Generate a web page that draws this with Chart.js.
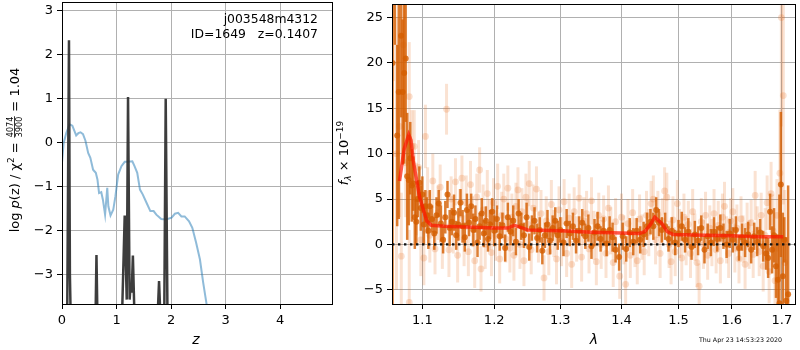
<!DOCTYPE html>
<html>
<head>
<meta charset="utf-8">
<script src="https://cdn.jsdelivr.net/npm/chart.js@4"></script>
<style>
  body { margin: 0; background: #fff; }
  #wrap { position: relative; width: 800px; height: 350px; }
  canvas { position: absolute; top: 0; }
</style>
</head>
<body>
<div id="wrap">
  <canvas id="pz" width="340" height="350" style="left:0"></canvas>
  <canvas id="spec" width="466" height="350" style="left:334px"></canvas>
</div>
<script>
// ---- left panel: p(z) ----
const chiZ = [0, 0.03, 0.08, 0.14, 0.19, 0.26, 0.30, 0.34, 0.385, 0.43, 0.48, 0.52, 0.57, 0.62, 0.65, 0.68, 0.72, 0.75, 0.79, 0.83, 0.85, 0.89, 0.94, 0.98, 1.03, 1.09, 1.15, 1.21, 1.29, 1.33, 1.38, 1.43, 1.48, 1.55, 1.62, 1.68, 1.73, 1.82, 1.91, 2.01, 2.07, 2.13, 2.19, 2.25, 2.33, 2.39, 2.46, 2.53, 2.59, 2.65, 2.71];
const chiVal = [-0.45, 0, 0.23, 0.42, 0.39, 0.17, 0.22, 0.24, 0.2, 0.05, -0.23, -0.34, -0.61, -0.68, -0.83, -1.14, -1.12, -1.29, -1.63, -1.02, -1.44, -1.65, -1.52, -1.21, -0.72, -0.53, -0.43, -0.43, -0.42, -0.53, -0.68, -1.06, -1.17, -1.36, -1.55, -1.55, -1.63, -1.73, -1.74, -1.70, -1.61, -1.59, -1.67, -1.67, -1.78, -1.93, -2.27, -2.65, -3.18, -3.65, -4.3];
const pzZ = [0, 0.095, 0.128, 0.145, 0.16, 0.615, 0.632, 0.65, 1.10, 1.15, 1.187, 1.211, 1.24, 1.26, 1.278, 1.30, 1.33, 1.752, 1.78, 1.806, 1.875, 1.902, 1.935, 4.97];
const pzVal = [-4, -4, 2.33, -3.0, -4, -4, -2.55, -4, -4, -1.65, -3.56, 1.04, -3.56, -3.18, -3.4, -2.56, -4, -4, -3.14, -4, -4, 1.0, -4, -4];
const zTicks = [0, 1, 2, 3, 4];
const lnpTicks = [-3, -2, -1, 0, 1, 2, 3];

// ---- right panel: spectrum ----
const specLam = [1.061, 1.064, 1.067, 1.069, 1.072, 1.074, 1.076, 1.078, 1.080, 1.082, 1.084, 1.086, 1.088, 1.090, 1.092, 1.094, 1.096, 1.098, 1.100, 1.102, 1.104, 1.106, 1.108, 1.110, 1.113, 1.116, 1.119, 1.122, 1.125, 1.128, 1.131, 1.134, 1.137, 1.140, 1.143, 1.146, 1.149, 1.152, 1.155, 1.158, 1.161, 1.164, 1.167, 1.170, 1.173, 1.176, 1.179, 1.182, 1.185, 1.188, 1.191, 1.194, 1.197, 1.200, 1.204, 1.208, 1.212, 1.216, 1.220, 1.224, 1.228, 1.232, 1.236, 1.240, 1.244, 1.248, 1.252, 1.256, 1.260, 1.264, 1.268, 1.272, 1.276, 1.280, 1.284, 1.288, 1.292, 1.296, 1.300, 1.305, 1.310, 1.315, 1.320, 1.325, 1.330, 1.335, 1.340, 1.345, 1.350, 1.355, 1.360, 1.365, 1.370, 1.375, 1.380, 1.385, 1.390, 1.396, 1.402, 1.408, 1.414, 1.420, 1.426, 1.432, 1.438, 1.444, 1.450, 1.455, 1.460, 1.465, 1.470, 1.476, 1.482, 1.488, 1.494, 1.500, 1.506, 1.512, 1.518, 1.524, 1.530, 1.536, 1.542, 1.548, 1.554, 1.560, 1.566, 1.572, 1.578, 1.584, 1.590, 1.596, 1.602, 1.608, 1.614, 1.620, 1.626, 1.632, 1.638, 1.644, 1.650, 1.656, 1.662, 1.668, 1.672, 1.676, 1.680, 1.684, 1.688, 1.692, 1.695, 1.698, 1.702, 1.705, 1.709, 1.713];
const specFlux = [20, 27, 12, 16.8, 23, 16.8, 18.9, 20.5, 7.5, 7.1, 9.5, 6.5, 6.7, 3.0, 2.5, 5.0, 6.8, 4.0, 5.5, 2.2, 4.2, 3.2, 1.5, 4.2, 2.8, 1.2, 3.2, 4.5, 2.3, 0.5, 3.0, 5.5, 1.8, 2.5, 3.5, 1.0, 2.2, 4.6, 2.0, 0.8, 3.8, 2.4, 4.2, 1.6, 2.8, 0.2, 2.0, 3.4, 1.2, 2.6, 0.6, 2.2, 3.6, 1.5, 2.8, 0.9, 2.1, -0.4, 3.0, 1.4, 2.6, 0.3, 3.4, 2.0, 1.0, 3.0, -0.3, 1.8, 2.6, 0.7, 1.6, -0.7, 1.0, 2.2, 0.4, 1.8, 2.6, 1.0, 1.6, 0.2, 2.3, 1.2, 2.0, 0.4, 1.5, 2.4, 0.9, 1.8, -0.2, 1.3, 2.0, 0.6, 1.5, 0.1, 1.6, 0.8, -0.6, -1.4, 0.9, -0.5, 1.3, 0.3, 1.5, 0.5, 1.1, 2.0, 2.5, 2.0, 3.8, 2.4, 1.6, 2.0, 0.6, 1.5, 0.2, 1.2, 2.0, 0.5, 1.4, -0.3, 1.1, 0.4, 1.8, -0.6, 0.9, 0.2, 1.4, 0.6, 1.8, 0.9, 0.0, 1.2, 0.5, 1.6, -0.4, 0.8, 0.2, 1.1, -0.6, 0.9, 0.3, 1.3, -0.2, -1.0, -1.5, 3.6, -0.6, 1.0, -2.4, -3.9, -6.5, 6.6, -3.5, 0.5, -6.2, -5.5];
const specErr = [30, 5, 10, 14, 9, 8, 10, 7, 7, 5, 4, 4, 3, 3.5, 2.5, 2, 1.8, 2.5, 2, 2.2, 1.8, 2, 2, 1.8, 1.5, 1.8, 2, 1.5, 2, 1.5, 1.8, 1.5, 2, 1.5, 2, 1.6, 1.8, 1.5, 1.8, 1.6, 1.8, 1.5, 1.4, 1.8, 1.5, 1.6, 1.5, 1.7, 1.5, 1.6, 1.4, 1.6, 1.5, 1.7, 1.5, 1.6, 1.4, 1.5, 1.6, 1.5, 1.7, 1.5, 1.6, 1.5, 1.4, 1.6, 1.5, 1.4, 1.5, 1.6, 1.4, 1.5, 1.4, 1.6, 1.5, 1.4, 1.5, 1.6, 1.4, 1.5, 1.6, 1.4, 1.5, 1.4, 1.6, 1.5, 1.4, 1.5, 1.4, 1.5, 1.6, 1.4, 1.5, 1.4, 1.5, 1.6, 1.4, 1.5, 1.5, 1.4, 1.6, 1.5, 1.4, 1.5, 1.4, 1.5, 1.4, 1.5, 1.4, 1.5, 1.4, 1.5, 1.4, 1.5, 1.4, 1.5, 1.6, 1.4, 1.5, 1.4, 1.5, 1.6, 1.4, 1.5, 1.4, 1.5, 1.6, 1.4, 1.5, 1.4, 1.5, 1.6, 1.4, 1.5, 1.4, 1.5, 1.6, 1.4, 1.5, 1.5, 1.6, 1.5, 1.7, 1.8, 2.2, 2.0, 2.6, 3.0, 3.5, 5, 12, 8, 7, 2.5, 7, 12];

const rawLam = [1.062, 1.066, 1.070, 1.0723, 1.075, 1.078, 1.0827, 1.0827, 1.086, 1.0892, 1.092, 1.095, 1.098, 1.1041, 1.102, 1.107, 1.110, 1.114, 1.117, 1.121, 1.124, 1.127, 1.1327, 1.136, 1.139, 1.142, 1.145, 1.148, 1.151, 1.154, 1.157, 1.160, 1.163, 1.166, 1.169, 1.172, 1.175, 1.179, 1.181, 1.184, 1.187, 1.190, 1.193, 1.196, 1.199, 1.202, 1.205, 1.208, 1.211, 1.214, 1.217, 1.220, 1.223, 1.226, 1.229, 1.232, 1.235, 1.238, 1.241, 1.244, 1.247, 1.250, 1.252, 1.255, 1.258, 1.263, 1.266, 1.270, 1.2746, 1.278, 1.282, 1.286, 1.290, 1.294, 1.298, 1.302, 1.306, 1.310, 1.314, 1.318, 1.322, 1.326, 1.330, 1.334, 1.338, 1.342, 1.346, 1.350, 1.354, 1.358, 1.362, 1.366, 1.370, 1.374, 1.378, 1.382, 1.386, 1.390, 1.397, 1.400, 1.404, 1.407, 1.411, 1.415, 1.419, 1.423, 1.427, 1.431, 1.435, 1.439, 1.443, 1.447, 1.451, 1.455, 1.459, 1.463, 1.467, 1.471, 1.475, 1.479, 1.483, 1.4866, 1.490, 1.494, 1.498, 1.502, 1.506, 1.510, 1.514, 1.518, 1.522, 1.526, 1.530, 1.534, 1.538, 1.542, 1.546, 1.550, 1.554, 1.558, 1.562, 1.566, 1.570, 1.574, 1.578, 1.582, 1.586, 1.590, 1.594, 1.598, 1.602, 1.606, 1.610, 1.614, 1.618, 1.622, 1.626, 1.630, 1.634, 1.638, 1.642, 1.646, 1.650, 1.654, 1.658, 1.662, 1.666, 1.670, 1.674, 1.678, 1.682, 1.686, 1.690, 1.696, 1.699, 1.703, 1.706];
const rawFlux = [28, 10, 13, -1.3, 22, 9, 16.3, -6.4, 10.8, 10.8, 5.0, 8.5, 0.5, 11.9, -1.5, 5.5, 1.0, 7.0, -0.5, 3.5, 6.3, 0.3, 14.9, -0.6, 5.0, 2.0, 6.9, -1.2, 3.3, 7.3, 0.4, 4.6, -0.8, 6.6, 2.5, -1.8, 5.2, 8.2, -2.7, 3.8, 0.0, 5.6, 2.2, -0.9, 4.6, 1.0, 6.4, -1.6, 3.2, 5.0, 0.6, 6.2, -0.4, 3.0, -1.2, 4.2, 6.0, 0.0, 3.6, -1.8, 5.2, 2.2, 6.7, -0.6, 4.0, 6.1, 0.8, 3.4, -3.7, 2.6, -0.8, 4.4, 1.2, -1.6, 3.8, 0.3, 4.7, -1.0, 2.9, -2.2, 3.6, 0.6, 5.1, -1.4, 2.6, 3.4, -0.5, 4.8, 1.0, -1.9, 3.2, 0.0, 2.8, -1.0, 4.0, 1.5, -2.0, 2.5, -3.5, 3.0, 0.5, -4.4, 2.3, -1.2, 3.5, 0.2, -1.8, 2.8, 0.8, -0.8, 3.2, 1.3, 4.5, 5.0, 0.5, 3.3, -1.0, 2.6, 5.9, 5.2, 0.0, -1.9, 2.7, -0.8, 4.5, 1.2, -1.5, 3.0, 0.4, 2.2, -1.0, 3.6, 0.8, -2.0, -4.6, 2.5, 0.0, 3.2, -1.2, 1.8, 0.2, 3.4, -0.6, 2.1, -1.8, 3.0, 4.2, 0.5, -1.0, 2.6, 3.6, -0.4, 1.8, -1.6, 2.8, 0.6, -2.2, 2.0, 0.0, 2.4, -1.1, 5.4, 1.6, -0.8, 3.2, -2.4, 1.0, 4.6, -3.0, 5.6, 1.5, -4.0, 3.2, 7.85, 25, 16.4, -2.0];
const rawErr = [10, 15, 10, 7, 10, 6, 6, 8, 4, 4, 4, 3, 4, 3.5, 3, 3, 3, 3, 2.8, 3, 2.5, 3, 2.8, 3, 2.5, 3, 2.6, 3, 2.8, 2.5, 2.8, 3, 2.7, 2.6, 2.8, 3, 2.6, 2.5, 2.5, 2.8, 2.7, 2.6, 2.8, 2.6, 2.7, 2.8, 2.5, 2.7, 2.6, 2.8, 2.6, 2.5, 2.7, 2.6, 2.8, 2.6, 2.5, 2.7, 2.6, 2.8, 2.6, 2.7, 2.5, 2.7, 2.6, 2.5, 2.8, 2.6, 2.5, 2.7, 2.6, 2.7, 2.6, 2.8, 2.6, 2.7, 2.5, 2.6, 2.7, 2.6, 2.7, 2.5, 2.6, 2.7, 2.6, 2.5, 2.7, 2.6, 2.7, 2.6, 2.5, 2.7, 2.6, 2.7, 2.5, 2.6, 2.7, 2.6, 2.5, 2.6, 2.7, 2.6, 2.7, 2.5, 2.6, 2.7, 2.6, 2.7, 2.5, 2.6, 2.7, 2.6, 2.5, 2.6, 2.7, 2.6, 2.7, 2.5, 2.6, 2.7, 2.6, 2.5, 2.6, 2.7, 2.6, 2.7, 2.5, 2.6, 2.7, 2.6, 2.7, 2.5, 2.6, 2.7, 2.5, 2.6, 2.7, 2.6, 2.7, 2.5, 2.6, 2.7, 2.6, 2.7, 2.5, 2.6, 2.7, 2.6, 2.7, 2.5, 2.6, 2.7, 2.6, 2.7, 2.5, 2.6, 2.7, 2.6, 2.7, 2.5, 2.6, 2.7, 2.6, 2.7, 2.5, 2.8, 3, 3, 3.5, 3.5, 4, 5, 4, 7, 12, 12, 8];

const modelLam = [1.070, 1.076, 1.082, 1.085, 1.088, 1.0964, 1.100, 1.1058, 1.112, 1.13, 1.15, 1.20, 1.22, 1.2295, 1.24, 1.25, 1.30, 1.35, 1.40, 1.43, 1.44, 1.45, 1.4575, 1.47, 1.48, 1.49, 1.55, 1.60, 1.65, 1.703];
const modelFlux = [7.0, 10.5, 12.1, 11.5, 9.2, 5.2, 4.2, 2.6, 2.1, 2.0, 1.95, 1.8, 1.8, 2.1, 1.85, 1.6, 1.5, 1.35, 1.25, 1.2, 1.4, 2.2, 3.0, 2.3, 1.4, 1.1, 1.0, 0.95, 0.85, 0.85];
const lamTicks = [1.1, 1.2, 1.3, 1.4, 1.5, 1.6, 1.7];
const fluxTicks = [-5, 0, 5, 10, 15, 20, 25];

Chart.defaults.font.family = 'DejaVu Sans';
Chart.defaults.font.size = 13;
Chart.defaults.color = '#000';

const minus = v => String(v).replace('-', '\u2212');

function fixedAxis(size, vertical) {
  return function (scale) {
    if (vertical) scale.width = size; else scale.height = size;
    scale.paddingTop = 0; scale.paddingBottom = 0;
    scale.paddingLeft = 0; scale.paddingRight = 0;
  };
}

const gridOpts = { color: '#b0b0b0', lineWidth: 1, tickColor: '#000', tickLength: 5, tickWidth: 1 };

// frame around plot area, like matplotlib spines
const frame = {
  id: 'frame',
  afterDraw(chart) {
    const { ctx, chartArea: a } = chart;
    ctx.save();
    ctx.strokeStyle = '#000';
    ctx.lineWidth = 1;
    ctx.strokeRect(Math.round(a.left) + 0.5, Math.round(a.top) + 0.5, Math.round(a.width) - 1, Math.round(a.height));
    ctx.restore();
  }
};

// vertical error bars drawn under each dataset's markers
const errorBars = {
  id: 'errorBars',
  beforeDatasetDraw(chart, args) {
    const ds = chart.data.datasets[args.index];
    if (!ds.errs) return;
    const { ctx, chartArea: a, scales: { x, y } } = chart;
    ctx.save();
    ctx.beginPath();
    ctx.rect(a.left, a.top, a.width, a.height);
    ctx.clip();
    ctx.strokeStyle = ds.barColor;
    ctx.lineWidth = ds.barWidth;
    ds.data.forEach((p, i) => {
      const px = x.getPixelForValue(p.x);
      ctx.beginPath();
      ctx.moveTo(px, y.getPixelForValue(p.y - ds.errs[i]));
      ctx.lineTo(px, y.getPixelForValue(p.y + ds.errs[i]));
      ctx.stroke();
    });
    ctx.restore();
  }
};

function drawParts(ctx, parts, baseline) {
  let w = 0;
  parts.forEach(p => {
    ctx.font = p.f;
    p.w = p.frac ? Math.max(ctx.measureText(p.frac[0]).width, ctx.measureText(p.frac[1]).width) + 2 : ctx.measureText(p.t).width;
    w += p.w;
  });
  let x = -w / 2;
  ctx.textBaseline = 'alphabetic';
  ctx.textAlign = 'left';
  parts.forEach(p => {
    ctx.font = p.f;
    if (p.frac) {
      const mid = baseline - 4.5;
      ctx.textAlign = 'center';
      ctx.fillText(p.frac[0], x + p.w / 2, mid - 1.5);
      ctx.fillText(p.frac[1], x + p.w / 2, mid + 7.5);
      ctx.fillRect(x + 0.5, mid - 0.4, p.w - 1, 0.8);
      ctx.textAlign = 'left';
    } else {
      ctx.fillText(p.t, x, baseline + (p.dy || 0));
    }
    x += p.w;
  });
}

const pzTitles = {
  id: 'pzTitles',
  afterDraw(chart) {
    const ctx = chart.ctx;
    ctx.save();
    ctx.fillStyle = '#000';
    ctx.font = '12.4px DejaVu Sans';
    ctx.textAlign = 'right';
    ctx.textBaseline = 'middle';
    ctx.fillText('j003548m4312', 318, 20);
    ctx.fillText('ID=1649   z=0.1407', 318, 35);
    ctx.font = 'italic 14px DejaVu Sans';
    ctx.textAlign = 'center';
    ctx.fillText('z', 196, 340);
    ctx.translate(14, 150);
    ctx.rotate(-Math.PI / 2);
    drawParts(ctx, [
      { t: 'log ', f: '13px DejaVu Sans' },
      { t: 'p', f: 'italic 13px DejaVu Sans' },
      { t: '(z) / \u03c7', f: '13px DejaVu Sans' },
      { t: '2', f: '9px DejaVu Sans', dy: -5.5 },
      { t: ' = ', f: '13px DejaVu Sans' },
      { frac: ['4074', '3900'], f: '8px DejaVu Sans' },
      { t: ' = 1.04', f: '13px DejaVu Sans' }
    ], 5);
    ctx.restore();
  }
};

const specTitles = {
  id: 'specTitles',
  afterDraw(chart) {
    const ctx = chart.ctx;
    ctx.save();
    ctx.fillStyle = '#000';
    ctx.font = 'italic 14px DejaVu Sans';
    ctx.textAlign = 'center';
    ctx.textBaseline = 'middle';
    ctx.fillText('\u03bb', 594 - 334, 340);
    ctx.font = '6.3px DejaVu Sans';
    ctx.textAlign = 'left';
    ctx.fillText('Thu Apr 23 14:53:23 2020', 699 - 334, 340);
    ctx.translate(9, 153);
    ctx.rotate(-Math.PI / 2);
    drawParts(ctx, [
      { t: 'f', f: 'italic 13px DejaVu Sans' },
      { t: '\u03bb', f: 'italic 9px DejaVu Sans', dy: 3 },
      { t: ' \u00d7 10', f: '13px DejaVu Sans' },
      { t: '\u221219', f: '9px DejaVu Sans', dy: -5.5 }
    ], 5);
    ctx.restore();
  }
};

new Chart(document.getElementById('pz'), {
  type: 'line',
  data: {
    datasets: [
      {
        data: pzZ.map((z, i) => ({ x: z, y: pzVal[i] })),
        borderColor: 'rgba(51,51,51,0.95)', borderWidth: 2.5, pointRadius: 0, tension: 0
      },
      {
        data: chiZ.map((z, i) => ({ x: z, y: chiVal[i] })),
        borderColor: 'rgba(31,119,180,0.5)', borderWidth: 2, pointRadius: 0, tension: 0
      }
    ]
  },
  options: {
    responsive: false, animation: false,
    layout: { padding: { top: 2, right: 7, left: 0, bottom: 0 } },
    plugins: { legend: { display: false }, tooltip: { enabled: false } },
    scales: {
      x: {
        type: 'linear', min: 0, max: 4.97,
        afterBuildTicks: s => { s.ticks = zTicks.map(v => ({ value: v })); },
        afterFit: fixedAxis(46, false),
        ticks: { padding: 4, maxRotation: 0, callback: v => minus(v) },
        grid: gridOpts, border: { display: false }
      },
      y: {
        type: 'linear', min: -3.66, max: 3.2,
        afterBuildTicks: s => { s.ticks = lnpTicks.map(v => ({ value: v })); },
        afterFit: fixedAxis(62, true),
        ticks: { padding: 4, callback: v => minus(v) },
        grid: gridOpts, border: { display: false }
      }
    }
  },
  plugins: [frame, pzTitles]
});

new Chart(document.getElementById('spec'), {
  type: 'scatter',
  data: {
    datasets: [
      {
        type: 'line', order: 1,
        data: [{ x: 1.0603, y: 0 }, { x: 1.7294, y: 0 }],
        borderColor: '#111', borderWidth: 2.4, borderDash: [2.4, 3.6], pointRadius: 0
      },
      {
        type: 'line', order: 2,
        data: modelLam.map((l, i) => ({ x: l, y: modelFlux[i] })),
        borderColor: 'rgba(255,20,0,0.7)', borderWidth: 3.5, pointRadius: 0, tension: 0
      },
      {
        order: 3,
        data: specLam.map((l, i) => ({ x: l, y: specFlux[i] })),
        errs: specErr, barColor: 'rgba(213,94,0,0.8)', barWidth: 2.5,
        pointRadius: 3, backgroundColor: 'rgba(213,94,0,0.8)', borderWidth: 0
      },
      {
        order: 4,
        data: rawLam.map((l, i) => ({ x: l, y: rawFlux[i] })),
        errs: rawErr, barColor: 'rgba(230,110,30,0.2)', barWidth: 3,
        pointRadius: 3.4, backgroundColor: 'rgba(230,110,30,0.22)', borderWidth: 0
      }
    ]
  },
  options: {
    responsive: false, animation: false,
    layout: { padding: { top: 2, right: 1, left: 0, bottom: 0 } },
    plugins: { legend: { display: false }, tooltip: { enabled: false } },
    scales: {
      x: {
        type: 'logarithmic', min: 1.0603, max: 1.7294,
        afterBuildTicks: s => { s.ticks = lamTicks.map(v => ({ value: v })); },
        afterFit: fixedAxis(46, false),
        ticks: { padding: 4, maxRotation: 0, autoSkip: false, callback: v => Number(v).toFixed(1) },
        grid: gridOpts, border: { display: false }
      },
      y: {
        type: 'linear', min: -6.57, max: 26.5,
        afterBuildTicks: s => { s.ticks = fluxTicks.map(v => ({ value: v })); },
        afterFit: fixedAxis(58, true),
        ticks: { padding: 4, callback: v => minus(v) },
        grid: gridOpts, border: { display: false }
      }
    }
  },
  plugins: [frame, errorBars, specTitles]
});
</script>
</body>
</html>
